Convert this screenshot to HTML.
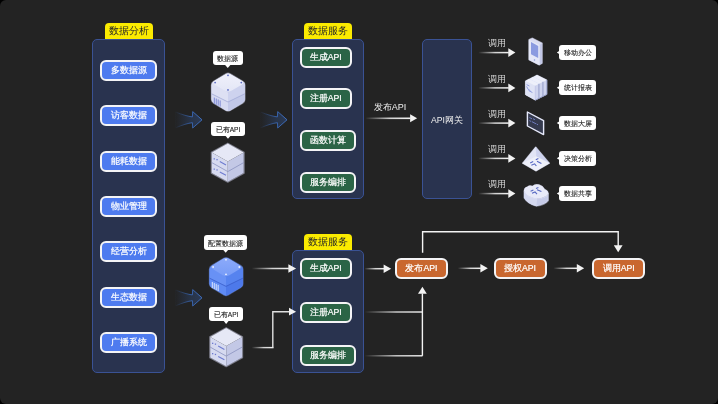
<!DOCTYPE html>
<html><head><meta charset="utf-8">
<style>
html,body{margin:0;padding:0;background:#000;width:718px;height:404px;overflow:hidden}
#bg{position:absolute;left:0;top:0;width:718px;height:404px;background:#232323;border-radius:6px;overflow:hidden;font-family:"Liberation Sans",sans-serif;will-change:transform}
.abs{position:absolute;box-sizing:border-box}
.panel{position:absolute;box-sizing:border-box;background:#29334f;border:1px solid #3a5294;border-radius:5px}
.ylab{position:absolute;box-sizing:border-box;background:#fbeb00;border-radius:4px 4px 0 0;color:#262626;font-size:10.4px;line-height:16px;text-align:center;white-space:nowrap}
.btn{position:absolute;box-sizing:border-box;border:2px solid #f4f4f6;border-radius:6px;color:#fff;-webkit-text-stroke:0.2px #fff;font-size:9px;text-align:center;white-space:nowrap;line-height:17.8px;height:21px}
.blue{background:#4e7bef;width:57px;left:100px}
.green{background:#2b6446;left:299.5px;font-size:8.7px}
.orange{background:#c9672f;width:53px;top:257.5px;height:21px;font-size:8.7px}
.txt{position:absolute;color:#eee;white-space:nowrap}
.call{position:absolute;box-sizing:border-box;background:#fff;border-radius:3px;color:#222;-webkit-text-stroke:0.1px #222;font-size:6.5px;text-align:center;white-space:nowrap}
svg{position:absolute;left:0;top:0}
</style></head><body>
<div id="bg">

<!-- left panel -->
<div class="panel" style="left:92px;top:39px;width:73px;height:334.4px"></div>
<div class="ylab" style="left:104.6px;top:22.6px;width:48px;height:16.6px">数据分析</div>
<div class="btn blue" style="top:59.8px">多数据源</div>
<div class="btn blue" style="top:105.2px">访客数据</div>
<div class="btn blue" style="top:150.6px">能耗数据</div>
<div class="btn blue" style="top:196px">物业管理</div>
<div class="btn blue" style="top:241.4px">经营分析</div>
<div class="btn blue" style="top:286.9px">生态数据</div>
<div class="btn blue" style="top:332.3px">广播系统</div>

<!-- middle top panel -->
<div class="panel" style="left:292px;top:39px;width:72px;height:160.3px"></div>
<div class="ylab" style="left:304px;top:22.6px;width:48px;height:16.6px">数据服务</div>
<div class="btn green" style="top:47px;width:52.5px">生成API</div>
<div class="btn green" style="top:88px;width:52.5px">注册API</div>
<div class="btn green" style="top:130px;width:56.5px">函数计算</div>
<div class="btn green" style="top:172px;width:56.5px">服务编排</div>

<!-- api gateway -->
<div class="panel" style="left:422px;top:39px;width:49.5px;height:160.3px"></div>
<div class="txt" style="left:431px;top:113.7px;font-size:8.7px;line-height:12px">API网关</div>
<div class="txt" style="left:373.8px;top:101.3px;font-size:9px;line-height:12px">发布API</div>

<!-- bottom middle panel -->
<div class="panel" style="left:292px;top:249.8px;width:72px;height:123.4px"></div>
<div class="ylab" style="left:304px;top:233.6px;width:48px;height:16.2px">数据服务</div>
<div class="btn green" style="top:257.5px;width:52.5px">生成API</div>
<div class="btn green" style="top:301.5px;width:52.5px">注册API</div>
<div class="btn green" style="top:345px;width:56.5px">服务编排</div>

<!-- orange -->
<div class="btn orange" style="left:395px">发布API</div>
<div class="btn orange" style="left:493.5px">授权API</div>
<div class="btn orange" style="left:592.3px">调用API</div>

<svg width="718" height="404" viewBox="0 0 718 404">
<defs>
<linearGradient id="chfill" x1="175" y1="0" x2="202" y2="0" gradientUnits="userSpaceOnUse">
<stop offset="0" stop-color="#28354f" stop-opacity="0"/><stop offset="0.6" stop-color="#29374f" stop-opacity="0.85"/><stop offset="1" stop-color="#2b3a56" stop-opacity="1"/></linearGradient>
<linearGradient id="chstroke" x1="175" y1="0" x2="202" y2="0" gradientUnits="userSpaceOnUse">
<stop offset="0" stop-color="#3a6cc0" stop-opacity="0"/><stop offset="0.6" stop-color="#3a6cc0" stop-opacity="0.9"/><stop offset="1" stop-color="#3f74cc" stop-opacity="1"/></linearGradient>
<linearGradient id="wline" x1="0" y1="0" x2="1" y2="0">
<stop offset="0" stop-color="#f0f0f0" stop-opacity="0"/><stop offset="0.55" stop-color="#f0f0f0" stop-opacity="0.85"/><stop offset="1" stop-color="#f2f2f2" stop-opacity="1"/></linearGradient>
<linearGradient id="tlav" x1="0" y1="0" x2="0" y2="1"><stop offset="0" stop-color="#f0f1fb"/><stop offset="1" stop-color="#e3e6f6"/></linearGradient>
<linearGradient id="tblu" x1="0" y1="0" x2="0" y2="1"><stop offset="0" stop-color="#8caafa"/><stop offset="1" stop-color="#779cf7"/></linearGradient>
</defs>
<g transform="translate(0,0)"><path d="M175.4,111.9 Q186,116.2 192.4,116.9 L192.7,111.6 L202,119.8 L192.7,128 L192.4,122.7 Q186,123.4 175.4,127.9 Z" fill="url(#chfill)" stroke="url(#chstroke)" stroke-width="0.9" stroke-linejoin="miter"/></g>
<g transform="translate(85,0)"><path d="M175.4,111.9 Q186,116.2 192.4,116.9 L192.7,111.6 L202,119.8 L192.7,128 L192.4,122.7 Q186,123.4 175.4,127.9 Z" fill="url(#chfill)" stroke="url(#chstroke)" stroke-width="0.9" stroke-linejoin="miter"/></g>
<g transform="translate(0,178)"><path d="M175.4,111.9 Q186,116.2 192.4,116.9 L192.7,111.6 L202,119.8 L192.7,128 L192.4,122.7 Q186,123.4 175.4,127.9 Z" fill="url(#chfill)" stroke="url(#chstroke)" stroke-width="0.9" stroke-linejoin="miter"/></g>
<rect x="365.3" y="117.5" width="45.3" height="1.6" fill="url(#wline)"/><path d="M410.1,114.3 L417.1,118.3 L410.1,122.3 Z" fill="#f2f2f2"/>
<rect x="478.3" y="51.85" width="30.5" height="1.5" fill="url(#wline)"/><path d="M508.3,48.3 L515.4,52.6 L508.3,56.9 Z" fill="#f2f2f2"/>
<rect x="478.3" y="87.15" width="30.5" height="1.5" fill="url(#wline)"/><path d="M508.3,83.6 L515.4,87.9 L508.3,92.2 Z" fill="#f2f2f2"/>
<rect x="478.3" y="122.35" width="30.5" height="1.5" fill="url(#wline)"/><path d="M508.3,118.8 L515.4,123.1 L508.3,127.4 Z" fill="#f2f2f2"/>
<rect x="478.3" y="157.65" width="30.5" height="1.5" fill="url(#wline)"/><path d="M508.3,154.1 L515.4,158.4 L508.3,162.7 Z" fill="#f2f2f2"/>
<rect x="478.3" y="192.85" width="30.5" height="1.5" fill="url(#wline)"/><path d="M508.3,189.3 L515.4,193.6 L508.3,197.9 Z" fill="#f2f2f2"/>
<g transform="translate(228,73)"><clipPath id="cs1"><path d="M-2.15,0.9 Q0,-0.4 2.2,0.9 L14.7,8.3 Q16.9,9.6 16.9,12.1 L16.9,26.3 Q16.9,28.8 14.7,30.09 L2.2,37.41 Q0,38.7 -2.15,37.41 L-14.36,30.09 Q-16.5,28.8 -16.5,26.3 L-16.5,12.1 Q-16.5,9.6 -14.36,8.3 Z"/></clipPath><path d="M-2.15,0.9 Q0,-0.4 2.2,0.9 L14.7,8.3 Q16.9,9.6 16.9,12.1 L16.9,26.3 Q16.9,28.8 14.7,30.09 L2.2,37.41 Q0,38.7 -2.15,37.41 L-14.36,30.09 Q-16.5,28.8 -16.5,26.3 L-16.5,12.1 Q-16.5,9.6 -14.36,8.3 Z" fill="#c2c8e8" stroke="#e6e9ff" stroke-width="1.4" stroke-opacity="0.45"/><g clip-path="url(#cs1)"><path d="M0,28.7 L17.6,20.1 L17.6,40 L0,40 Z" fill="#c2c8e8"/><path d="M-17.2,20.1 L0,28.7 L0,40 L-17.2,40 Z" fill="#d6daf1"/><path d="M0,19.4 L17.6,9 L17.6,20.4 L0,28.7 Z" fill="#cdd2ee"/><path d="M-17.2,9 L0,19.4 L0,28.7 L-17.2,20.4 Z" fill="#dde0f3"/><path d="M-3.36,1.44 Q0,-0.6 3.44,1.44 L13.76,7.56 Q17.2,9.6 13.76,11.64 L3.44,17.76 Q0,19.8 -3.36,17.76 L-13.44,11.64 Q-16.8,9.6 -13.44,7.56 Z" fill="url(#tlav)"/><path d="M-17.2,20.4 L0,29 L17.6,20.4" fill="none" stroke="#a2aad6" stroke-width="0.75"/></g><line x1="-13.7" y1="24.6" x2="-13.7" y2="30.8" stroke="#6b79cf" stroke-width="0.85"/><line x1="-11.75" y1="25.55" x2="-11.75" y2="31.75" stroke="#6b79cf" stroke-width="0.85"/><line x1="-9.8" y1="26.5" x2="-9.8" y2="32.7" stroke="#6b79cf" stroke-width="0.85"/><line x1="-7.85" y1="27.45" x2="-7.85" y2="33.65" stroke="#6b79cf" stroke-width="0.85"/><circle cx="0" cy="2.3" r="0.9" fill="#5a6ac4"/><circle cx="-12.9" cy="9.6" r="0.9" fill="#5a6ac4"/><circle cx="13.3" cy="9.6" r="0.9" fill="#5a6ac4"/><circle cx="0" cy="16.9" r="0.9" fill="#5a6ac4"/></g>
<g transform="translate(226,257.4)"><clipPath id="cs2"><path d="M-2.15,0.9 Q0,-0.4 2.2,0.9 L14.7,8.3 Q16.9,9.6 16.9,12.1 L16.9,26.3 Q16.9,28.8 14.7,30.09 L2.2,37.41 Q0,38.7 -2.15,37.41 L-14.36,30.09 Q-16.5,28.8 -16.5,26.3 L-16.5,12.1 Q-16.5,9.6 -14.36,8.3 Z"/></clipPath><path d="M-2.15,0.9 Q0,-0.4 2.2,0.9 L14.7,8.3 Q16.9,9.6 16.9,12.1 L16.9,26.3 Q16.9,28.8 14.7,30.09 L2.2,37.41 Q0,38.7 -2.15,37.41 L-14.36,30.09 Q-16.5,28.8 -16.5,26.3 L-16.5,12.1 Q-16.5,9.6 -14.36,8.3 Z" fill="#4d79ea" stroke="#7aa0ff" stroke-width="1.4" stroke-opacity="0.45"/><g clip-path="url(#cs2)"><path d="M0,28.7 L17.6,20.1 L17.6,40 L0,40 Z" fill="#4d79ea"/><path d="M-17.2,20.1 L0,28.7 L0,40 L-17.2,40 Z" fill="#5f8bf4"/><path d="M0,19.4 L17.6,9 L17.6,20.4 L0,28.7 Z" fill="#5683ef"/><path d="M-17.2,9 L0,19.4 L0,28.7 L-17.2,20.4 Z" fill="#6891f5"/><path d="M-3.36,1.44 Q0,-0.6 3.44,1.44 L13.76,7.56 Q17.2,9.6 13.76,11.64 L3.44,17.76 Q0,19.8 -3.36,17.76 L-13.44,11.64 Q-16.8,9.6 -13.44,7.56 Z" fill="url(#tblu)"/><path d="M-17.2,20.4 L0,29 L17.6,20.4" fill="none" stroke="#3a5cc8" stroke-width="0.75"/></g><line x1="-13.7" y1="24.6" x2="-13.7" y2="30.8" stroke="#f2f5ff" stroke-width="0.85"/><line x1="-11.75" y1="25.55" x2="-11.75" y2="31.75" stroke="#f2f5ff" stroke-width="0.85"/><line x1="-9.8" y1="26.5" x2="-9.8" y2="32.7" stroke="#f2f5ff" stroke-width="0.85"/><line x1="-7.85" y1="27.45" x2="-7.85" y2="33.65" stroke="#f2f5ff" stroke-width="0.85"/><circle cx="0" cy="2.3" r="0.9" fill="#f0f4ff"/><circle cx="-12.9" cy="9.6" r="0.9" fill="#f0f4ff"/><circle cx="13.3" cy="9.6" r="0.9" fill="#f0f4ff"/><circle cx="0" cy="16.9" r="0.9" fill="#f0f4ff"/></g>
<g transform="translate(227.8,143.6)"><path d="M0,-0.4 L16.3,8.8 L16.3,29.6 L0,38.5 L-16.4,29.6 L-16.4,8.8 Z" fill="none" stroke="#dfe3ff" stroke-width="1.3" stroke-linejoin="round" opacity="0.45"/><path d="M-16.0,8.8 L0,17.8 L0,38.1 L-16.0,29.4 Z" fill="#d6daf0"/><path d="M15.9,8.8 L0,17.8 L0,38.1 L15.9,29.4 Z" fill="#c3c8e6"/><path d="M0,0 L15.9,8.8 L0,17.8 L-16.0,8.8 Z" fill="#e6e8f6"/><path d="M-16.0,19 L0,28 L15.9,19" fill="none" stroke="#8a92bf" stroke-width="0.8"/><rect x="-14.2" y="14.6" width="1.3" height="1.3" fill="#6d7bd0"/><rect x="-11.4" y="15.4" width="1.3" height="1.3" fill="#6d7bd0"/><line x1="-8" y1="18" x2="-1.8" y2="21.3" stroke="#6d7bd0" stroke-width="1.1"/><rect x="-14.2" y="24.9" width="1.3" height="1.3" fill="#6d7bd0"/><rect x="-11.4" y="25.7" width="1.3" height="1.3" fill="#6d7bd0"/><line x1="-8" y1="28.3" x2="-1.8" y2="31.6" stroke="#6d7bd0" stroke-width="1.1"/></g>
<g transform="translate(226.2,328.1)"><path d="M0,-0.4 L16.3,8.8 L16.3,29.6 L0,38.5 L-16.4,29.6 L-16.4,8.8 Z" fill="none" stroke="#dfe3ff" stroke-width="1.3" stroke-linejoin="round" opacity="0.45"/><path d="M-16.0,8.8 L0,17.8 L0,38.1 L-16.0,29.4 Z" fill="#d6daf0"/><path d="M15.9,8.8 L0,17.8 L0,38.1 L15.9,29.4 Z" fill="#c3c8e6"/><path d="M0,0 L15.9,8.8 L0,17.8 L-16.0,8.8 Z" fill="#e6e8f6"/><path d="M-16.0,19 L0,28 L15.9,19" fill="none" stroke="#8a92bf" stroke-width="0.8"/><rect x="-14.2" y="14.6" width="1.3" height="1.3" fill="#6d7bd0"/><rect x="-11.4" y="15.4" width="1.3" height="1.3" fill="#6d7bd0"/><line x1="-8" y1="18" x2="-1.8" y2="21.3" stroke="#6d7bd0" stroke-width="1.1"/><rect x="-14.2" y="24.9" width="1.3" height="1.3" fill="#6d7bd0"/><rect x="-11.4" y="25.7" width="1.3" height="1.3" fill="#6d7bd0"/><line x1="-8" y1="28.3" x2="-1.8" y2="31.6" stroke="#6d7bd0" stroke-width="1.1"/></g>
<path d="M225.15,65 L227.75,68.1 L230.35,65 Z" fill="#fff"/>
<path d="M225.4,135.7 L228,138.8 L230.6,135.7 Z" fill="#fff"/>
<path d="M223.1,249.7 L225.7,252.8 L228.3,249.7 Z" fill="#fff"/>
<path d="M223.55,320.8 L226.15,323.9 L228.75,320.8 Z" fill="#fff"/>
<path d="M559.5,50.7 L556.8,52.5 L559.5,54.3 Z" fill="#fff"/>
<path d="M559.5,86 L556.8,87.8 L559.5,89.6 Z" fill="#fff"/>
<path d="M559.5,121.2 L556.8,123 L559.5,124.8 Z" fill="#fff"/>
<path d="M559.5,156.5 L556.8,158.3 L559.5,160.1 Z" fill="#fff"/>
<path d="M559.5,191.7 L556.8,193.5 L559.5,195.3 Z" fill="#fff"/>
<g><path d="M528.9,39.5 L532.3,38.1 L542.2,43.1 L542.2,63.2 L539.3,65 L528.9,59.8 Z" fill="#d9dcf1" stroke="#e3e6ff" stroke-width="1.1" stroke-opacity="0.5" stroke-linejoin="round"/><path d="M539.3,45.3 L542.2,43.1 L542.2,63.2 L539.3,65 Z" fill="#c2c7e6"/><path d="M529.1,40.2 L539.3,45.3 L539.3,65 L529.1,59.8 Z" fill="#e4e7f7" stroke="#e4e7f7" stroke-width="0.6" stroke-linejoin="round"/><path d="M531,42 L538.2,45.9 L538.2,58 L531,54.3 Z" fill="#8b9be0"/><circle cx="534.5" cy="60" r="0.75" fill="#8a98da"/></g>
<g transform="translate(8,-4)"><path d="M525.4,80.9 L529,79 L538.9,83.9 L538.9,98.4 L535.3,100.2 L525.4,94.7 Z" fill="#e8ebfa" stroke="#e3e6ff" stroke-width="0.9" stroke-opacity="0.55" stroke-linejoin="round"/><path d="M525.4,80.9 L529,79 L538.9,83.9 L535.3,85.8 Z" fill="#eef0fa"/><path d="M535.3,85.8 L538.9,83.9 L538.9,98.4 L535.3,100.2 Z" fill="#cfd4ee"/><path d="M525.4,80.9 L535.3,85.8 L535.3,100.2 L525.4,94.7 Z" fill="#dfe3f5"/><path d="M535.3,85.8 L535.3,100.2" stroke="#aab1da" stroke-width="0.5"/><path d="M538.9,83.9 L538.9,98.4 L535.3,100.2" fill="none" stroke="#7d86b8" stroke-width="0.7"/></g><g transform="translate(4,-2)"><path d="M525.4,80.9 L529,79 L538.9,83.9 L538.9,98.4 L535.3,100.2 L525.4,94.7 Z" fill="#e8ebfa" stroke="#e3e6ff" stroke-width="0.9" stroke-opacity="0.55" stroke-linejoin="round"/><path d="M525.4,80.9 L529,79 L538.9,83.9 L535.3,85.8 Z" fill="#eef0fa"/><path d="M535.3,85.8 L538.9,83.9 L538.9,98.4 L535.3,100.2 Z" fill="#cfd4ee"/><path d="M525.4,80.9 L535.3,85.8 L535.3,100.2 L525.4,94.7 Z" fill="#dfe3f5"/><path d="M535.3,85.8 L535.3,100.2" stroke="#aab1da" stroke-width="0.5"/><path d="M538.9,83.9 L538.9,98.4 L535.3,100.2" fill="none" stroke="#7d86b8" stroke-width="0.7"/></g><g transform="translate(0,0)"><path d="M525.4,80.9 L529,79 L538.9,83.9 L538.9,98.4 L535.3,100.2 L525.4,94.7 Z" fill="#e8ebfa" stroke="#e3e6ff" stroke-width="0.9" stroke-opacity="0.55" stroke-linejoin="round"/><path d="M525.4,80.9 L529,79 L538.9,83.9 L535.3,85.8 Z" fill="#eef0fa"/><path d="M535.3,85.8 L538.9,83.9 L538.9,98.4 L535.3,100.2 Z" fill="#cfd4ee"/><path d="M525.4,80.9 L535.3,85.8 L535.3,100.2 L525.4,94.7 Z" fill="#dfe3f5"/><path d="M535.3,85.8 L535.3,100.2" stroke="#aab1da" stroke-width="0.5"/><path d="M538.9,83.9 L538.9,98.4 L535.3,100.2" fill="none" stroke="#7d86b8" stroke-width="0.7"/></g>
<path d="M526.6,84.6 L529.4,86 M526.6,86.4 L528.2,89.4 L530.4,90.6 M528.6,90.6 L532.4,92.5" stroke="#6f7fd2" stroke-width="0.7" fill="none"/>
<path d="M527.4,112 L543.6,120.6 L543.6,134.6 L527.4,126 Z" fill="#353a4e" stroke="#e6e9fb" stroke-width="1.4" stroke-linejoin="round"/>
<path d="M529.4,117.5 L532,118.8 M533,118.7 L535,119.8 M529.4,120.6 L531,121.4 M531.8,121.6 L536,123.8 M536.6,124 L538,124.8" stroke="#7c8bd8" stroke-width="0.8" fill="none"/>
<path d="M535.7,147 L549.4,163.2 L536,171 L522.6,163.2 Z" fill="#dde0f3" stroke="#e3e6ff" stroke-width="1.3" stroke-opacity="0.45" stroke-linejoin="round"/>
<path d="M535.7,147 L549.4,163.2 L536,156.6 Z" fill="#cdd2ee" stroke="#cdd2ee" stroke-width="0.4"/>
<path d="M535.7,147 L536,156.6 L522.6,163.2 Z" fill="#e2e5f6" stroke="#e2e5f6" stroke-width="0.4"/>
<path d="M522.6,163.2 L536,156.6 L549.4,163.2 L536,171 Z" fill="#eef0fa" stroke="#eef0fa" stroke-width="0.4"/>
<path d="M530.2,163 L533.2,161.6 M531.4,165.2 L534.6,163.8 L536.4,166 M537,161.2 L541.4,163.4 M535.8,159.8 L538.4,158.6" stroke="#5667c2" stroke-width="1.1" fill="none"/>
<g transform="translate(0,1)">
<path d="M524,190 L524,196.8 Q527,202.6 536.4,205.2 Q545.4,203.8 548.4,199.6 L548.4,192.6 Q546.8,196.8 537.2,197.6 Q526.5,196.4 524,190 Z" fill="#c6cbe8" stroke="#e3e6ff" stroke-width="1.2" stroke-opacity="0.45" stroke-linejoin="round"/>
<path d="M524,190 L524,196.8 Q527,202.6 536.4,205.2 L537.2,197.6 Q526.5,196.4 524,190 Z" fill="#d5d9f0"/>
<path d="M524,190 Q523.8,186.6 527.2,185.8 Q529.4,183.8 532.4,185 Q534.8,182.6 539,183.6 Q543.2,184.8 544.8,188.2 Q548.6,189.6 548.4,192.6 Q546.8,196.8 537.2,197.6 Q526.5,196.4 524,190 Z" fill="#e8eaf8" stroke="#e3e6ff" stroke-width="0.8" stroke-opacity="0.5"/>
<path d="M530.6,190.2 L533.4,189 M532,192.2 L535,191 L537,193.2 M537,188.8 L541.4,190.6 M536,187.6 L538.4,186.6" stroke="#5667c2" stroke-width="1.1" fill="none"/>
</g>
<rect x="251.7" y="267.75" width="37.2" height="1.5" fill="url(#wline)"/><path d="M288.4,264.35 L296.1,268.5 L288.4,272.65 Z" fill="#f2f2f2"/>
<rect x="251.7" y="346.9" width="21.8" height="1.4" fill="url(#wline)"/>
<path d="M272.8,347.6 L272.8,311.7 L289.8,311.7" fill="none" stroke="#e0e0e0" stroke-width="1.4"/>
<path d="M289,307.8 L296.1,311.7 L289,315.6 Z" fill="#f2f2f2"/>
<rect x="364.5" y="267.95" width="19.6" height="1.5" fill="url(#wline)"/><path d="M383.6,264.5 L391.2,268.7 L383.6,272.9 Z" fill="#f2f2f2"/>
<rect x="364.5" y="311.3" width="58" height="1.4" fill="url(#wline)"/>
<rect x="364.5" y="355.1" width="58" height="1.4" fill="url(#wline)"/>
<path d="M422.4,355.8 L422.4,293.5" fill="none" stroke="#f4f4f4" stroke-width="1.4"/>
<path d="M418,293.8 L422.4,286.8 L426.8,293.8 Z" fill="#f4f4f4"/>
<path d="M422.6,252.7 L422.6,231.7 L618.2,231.7 L618.2,246" fill="none" stroke="#f4f4f4" stroke-width="1.4"/>
<path d="M613.8,245.2 L618.2,252.3 L622.6,245.2 Z" fill="#f4f4f4"/>
<rect x="457.8" y="267.55" width="23.1" height="1.5" fill="url(#wline)"/><path d="M480.4,264.1 L487.8,268.3 L480.4,272.5 Z" fill="#f2f2f2"/>
<rect x="553.4" y="267.55" width="23.9" height="1.5" fill="url(#wline)"/><path d="M576.8,264.1 L584.2,268.3 L576.8,272.5 Z" fill="#f2f2f2"/>
</svg>
<div class="call" style="left:212.5px;top:51.3px;width:30.5px;height:14.2px;line-height:14.2px;padding-top:0.9px;font-size:6.6px">数据源</div>
<div class="call" style="left:211px;top:122.2px;width:34px;height:14px;line-height:14px;padding-top:0.9px;font-size:6.6px">已有API</div>
<div class="call" style="left:204px;top:235.2px;width:43.4px;height:15px;line-height:15px;padding-top:0.9px;font-size:6.5px">配置数据源</div>
<div class="call" style="left:209.3px;top:306.8px;width:33.7px;height:14.5px;line-height:14.5px;padding-top:0.9px;font-size:6.6px">已有API</div>
<div class="call" style="left:559px;top:45.1px;width:37.4px;height:14.8px;line-height:14.8px;padding-top:1.1px;font-size:6.7px">移动办公</div>
<div class="txt" style="left:487.5px;top:38.4px;font-size:8.6px;line-height:10px;color:#d8d8d8">调用</div>
<div class="call" style="left:559px;top:80.4px;width:37.4px;height:14.8px;line-height:14.8px;padding-top:1.1px;font-size:6.7px">统计报表</div>
<div class="txt" style="left:487.5px;top:73.7px;font-size:8.6px;line-height:10px;color:#d8d8d8">调用</div>
<div class="call" style="left:559px;top:115.6px;width:37.4px;height:14.8px;line-height:14.8px;padding-top:1.1px;font-size:6.7px">数据大屏</div>
<div class="txt" style="left:487.5px;top:108.9px;font-size:8.6px;line-height:10px;color:#d8d8d8">调用</div>
<div class="call" style="left:559px;top:150.9px;width:37.4px;height:14.8px;line-height:14.8px;padding-top:1.1px;font-size:6.7px">决策分析</div>
<div class="txt" style="left:487.5px;top:144.2px;font-size:8.6px;line-height:10px;color:#d8d8d8">调用</div>
<div class="call" style="left:559px;top:186.1px;width:37.4px;height:14.8px;line-height:14.8px;padding-top:1.1px;font-size:6.7px">数据共享</div>
<div class="txt" style="left:487.5px;top:179.4px;font-size:8.6px;line-height:10px;color:#d8d8d8">调用</div>

</div>
</body></html>
